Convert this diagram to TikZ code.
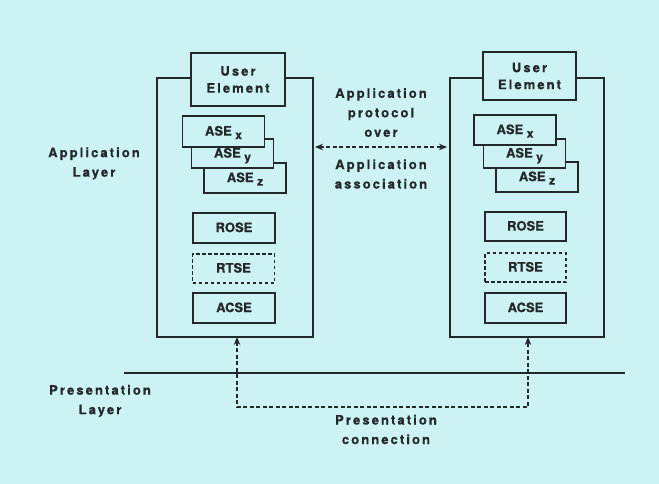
\documentclass[tikz,border=0pt]{standalone}
\usepackage{fontspec}
\setmainfont{TeX Gyre Heros}[BoldFeatures={FakeBold=0.6}]
\newfontfamily\spacedfont{TeX Gyre Heros}[LetterSpace=16,BoldFeatures={FakeBold=0.6}]
\usetikzlibrary{arrows.meta}
\definecolor{bg}{RGB}{205,242,243}
\definecolor{ink}{RGB}{35,40,42}
\begin{document}
\begin{tikzpicture}[x=1pt,y=-1pt,
  bigbox/.style={draw=ink,line width=1.1pt,inner sep=0pt,outer sep=0pt},
  ibox/.style={draw=ink,line width=1.6pt,fill=bg,inner sep=0pt,outer sep=0pt,
    text height=9.2pt,text depth=1pt,text=ink,
    minimum width=82pt,minimum height=30pt,font=\bfseries\fontsize{13}{15}\selectfont},
  dbox/.style={ibox,dash pattern=on 3.5pt off 2.5pt},
  uebox/.style={draw=ink,line width=1.6pt,fill=bg,inner sep=0pt,outer sep=0pt,align=center,text=ink,
    font=\spacedfont\bfseries\fontsize{13}{17}\selectfont},
  lbl/.style={align=center,inner sep=0pt,font=\spacedfont\bfseries\fontsize{13}{19.5}\selectfont,text=ink},
  conn/.style={draw=ink,line width=1.1pt,dash pattern=on 4pt off 2.5pt,
    {Stealth[length=8pt,width=6.5pt]}-{Stealth[length=8pt,width=6.5pt]}},
  solid line/.style={draw=ink,line width=1.2pt}
]
\useasboundingbox[fill=bg] (0,0) rectangle (659,484);
\newcommand{\asesub}[1]{ASE\hspace{3.5pt}\raisebox{-3.5pt}{\fontsize{12}{13}\selectfont #1}}

% big boxes
\node[bigbox,minimum width=156pt,minimum height=259pt] (L) at (235,207.5) {};
\node[bigbox,minimum width=154pt,minimum height=259pt] (R) at (527,207.5) {};

% user elements
\node[uebox,minimum width=94pt,minimum height=53pt] (ueL) at (238,79.5) {User\\Element};
\node[uebox,minimum width=93pt,minimum height=48pt] (ueR) at (529.5,76) {User\\Element};

% ASE stacks (left)
\node[ibox] (azL) at (245,178) {\asesub{z}};
\node[ibox,minimum height=29pt] (ayL) at (232.5,153.5) {\asesub{y}};
\node[ibox,minimum height=31pt] (axL) at (223.5,131.5) {\asesub{x}};
% ASE stacks (right)
\node[ibox] (azR) at (537,177) {\asesub{z}};
\node[ibox,minimum height=29pt] (ayR) at (524.5,153.5) {\asesub{y}};
\node[ibox] (axR) at (515,130) {\asesub{x}};

% ROSE / RTSE / ACSE
\node[ibox] (roseL) at (234,228) {ROSE};
\node[dbox,minimum height=29pt] (rtseL) at (233.5,268.5) {RTSE};
\node[ibox] (acseL) at (234,308) {ACSE};
\node[ibox,minimum width=81pt,minimum height=29pt] (roseR) at (525.5,226.5) {ROSE};
\node[dbox,minimum width=81pt,minimum height=29pt] (rtseR) at (525.5,267.5) {RTSE};
\node[ibox,minimum width=81pt] (acseR) at (525.5,308) {ACSE};

% labels
\node[lbl] (appl) at (94,163.5) {Application\\Layer};
\node[lbl] (proto) at (381,112.5) {Application\\protocol\\over};
\node[lbl] (assoc) at (381,174) {Application\\association};
\node[lbl] (presl) at (100,401) {Presentation\\Layer};
\node[lbl] (presc) at (386,429.5) {Presentation\\connection};

% layer boundary
\coordinate (pl1) at (124,373);
\coordinate (pl2) at (625,373);
\draw[solid line] (pl1) -- (pl2);

% application association arrow
\coordinate (aa) at (0,147);
\draw[conn] ([xshift=2pt]L.east |- aa) -- ([xshift=-3pt]R.west |- aa);

% presentation connection
\coordinate (c1) at (237,407);
\coordinate (c2) at (528,407);
\draw[conn] (L.south -| c1) -- (c1) -- (c2) -- (R.south -| c2);
\end{tikzpicture}
\end{document}
